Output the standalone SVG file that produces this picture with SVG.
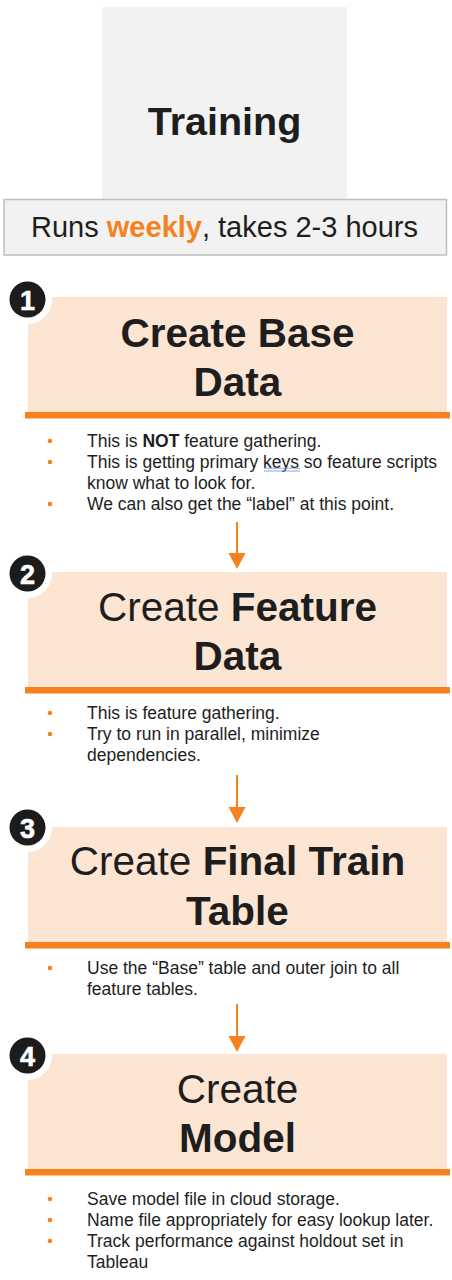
<svg xmlns="http://www.w3.org/2000/svg" width="452" height="1280" viewBox="0 0 452 1280">
<defs>
<style>
text{font-family:"Liberation Sans",Arial,sans-serif;fill:#1e1e1e}
.title{font-size:40.5px;text-anchor:middle}
.b{font-weight:bold}
.bl{font-size:17.5px}
.peach{fill:#fde5d3}
.bar{fill:#f5821f}
.dot{fill:#f5821f}
.badge{fill:#1c1c1c}
.num{fill:#fff;font-weight:bold;font-size:27px;text-anchor:middle;stroke:#fff;stroke-width:0.6}
.conn{stroke:#f5821f;stroke-width:2;fill:none}
</style>
</defs>
<rect width="452" height="1280" fill="#fff"/>

<g id="header">
<rect x="102" y="7" width="245" height="192" fill="#f2f2f2"/>
<text x="224.5" y="135" class="b" style="font-size:39.5px;text-anchor:middle">Training</text>
</g>
<g id="schedule">
<rect x="4" y="199.5" width="442.5" height="55.5" fill="#f2f2f2" stroke="#bfbfbf" stroke-width="1.5"/>
<text x="224.5" y="237" style="font-size:29px;text-anchor:middle">Runs <tspan class="b" style="fill:#f5821f">weekly</tspan>, takes 2-3 hours</text>
</g>

<g id="connectors">
<path class="conn" d="M237,522 V553" />
<path d="M228.5,553 L245.5,553 L237,569 Z" fill="#f5821f"/>
<path class="conn" d="M237,775 V807" />
<path d="M228.5,807 L245.5,807 L237,823 Z" fill="#f5821f"/>
<path class="conn" d="M237,1004 V1036" />
<path d="M228.5,1036 L245.5,1036 L237,1052 Z" fill="#f5821f"/>
</g>

<g id="step1">
<rect class="peach" x="28" y="297" width="419" height="116"/>
<rect class="bar" x="25" y="412" width="425" height="6.5"/>
<circle cx="27.5" cy="299.5" r="24.5" fill="#fff"/>
<circle class="badge" cx="27.5" cy="299.5" r="18"/>
<text class="num" x="27.5" y="309.5">1</text>
<text class="title b" x="237.5" y="347">Create Base</text>
<text class="title b" x="237.5" y="396">Data</text>
<circle class="dot" cx="50" cy="441" r="2.3"/>
<text class="bl" x="87" y="447">This is <tspan class="b">NOT</tspan> feature gathering.</text>
<circle class="dot" cx="50" cy="462" r="2.3"/>
<text class="bl" x="87" y="467.5">This is getting primary keys so feature scripts</text>
<text class="bl" x="87" y="488.5">know what to look for.</text>
<circle class="dot" cx="50" cy="504" r="2.3"/>
<text class="bl" x="87" y="509.5">We can also get the “label” at this point.</text>
<path d="M264,468.2 H300 M264,471 H300" stroke="#7f9fd8" stroke-width="0.9" fill="none"/>
</g>

<g id="step2">
<rect class="peach" x="28" y="572" width="419" height="116"/>
<rect class="bar" x="25" y="687" width="425" height="6.5"/>
<circle cx="27.5" cy="573.5" r="24.5" fill="#fff"/>
<circle class="badge" cx="27.5" cy="573.5" r="18"/>
<text class="num" x="27.5" y="583.5">2</text>
<text class="title" x="237.5" y="621">Create <tspan class="b">Feature</tspan></text>
<text class="title b" x="237.5" y="670">Data</text>
<circle class="dot" cx="50" cy="713" r="2.3"/>
<text class="bl" x="87" y="718.5">This is feature gathering.</text>
<circle class="dot" cx="50" cy="734" r="2.3"/>
<text class="bl" x="87" y="739.5">Try to run in parallel, minimize</text>
<text class="bl" x="87" y="760.5">dependencies.</text>
</g>

<g id="step3">
<rect class="peach" x="28" y="827" width="419" height="116"/>
<rect class="bar" x="25" y="942" width="425" height="6.5"/>
<circle cx="27.5" cy="827.5" r="24.5" fill="#fff"/>
<circle class="badge" cx="27.5" cy="827.5" r="18"/>
<text class="num" x="27.5" y="837.5">3</text>
<text class="title" x="237.5" y="875">Create <tspan class="b">Final Train</tspan></text>
<text class="title b" x="237.5" y="925">Table</text>
<circle class="dot" cx="50" cy="968" r="2.3"/>
<text class="bl" x="87" y="973.5">Use the “Base” table and outer join to all</text>
<text class="bl" x="87" y="994.5">feature tables.</text>
</g>

<g id="step4">
<rect class="peach" x="28" y="1054" width="419" height="116"/>
<rect class="bar" x="25" y="1169" width="425" height="6.5"/>
<circle cx="27.5" cy="1055.5" r="24.5" fill="#fff"/>
<circle class="badge" cx="27.5" cy="1055.5" r="18"/>
<text class="num" x="27.5" y="1065.5">4</text>
<text class="title" x="237.5" y="1103">Create</text>
<text class="title b" x="237.5" y="1152">Model</text>
<circle class="dot" cx="50" cy="1199" r="2.3"/>
<text class="bl" x="87" y="1204.5">Save model file in cloud storage.</text>
<circle class="dot" cx="50" cy="1220" r="2.3"/>
<text class="bl" x="87" y="1225.5">Name file appropriately for easy lookup later.</text>
<circle class="dot" cx="50" cy="1241" r="2.3"/>
<text class="bl" x="87" y="1246.5">Track performance against holdout set in</text>
<text class="bl" x="87" y="1267.5">Tableau</text>
</g>
</svg>
